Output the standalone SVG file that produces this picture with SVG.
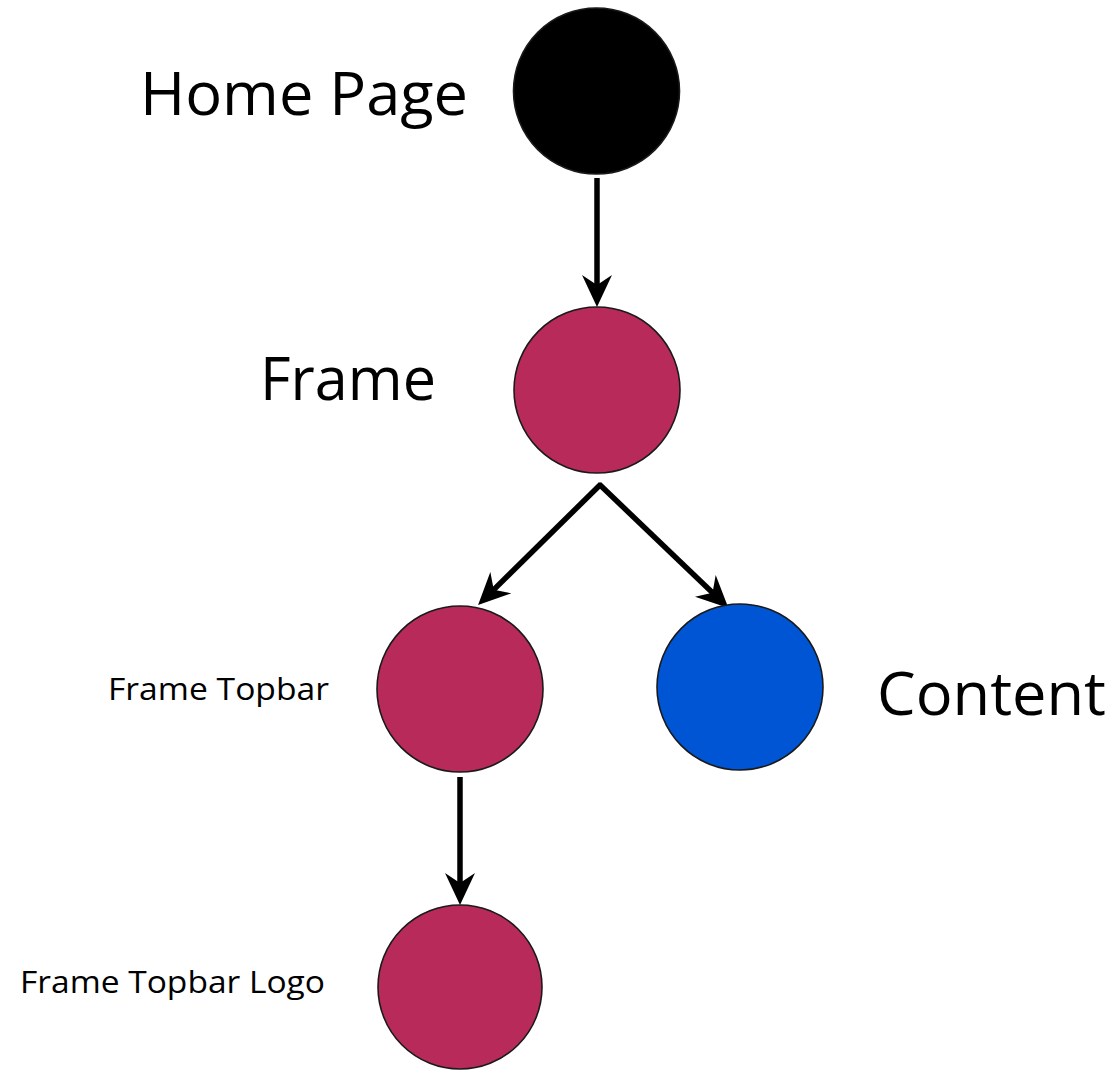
<svg xmlns="http://www.w3.org/2000/svg" width="1119" height="1070" viewBox="0 0 1119 1070">
  <style>
    .lbl { font-family: "Open Sans", "Liberation Sans", sans-serif; fill: #000; }
    .big { font-size: 60px; }
    .small { font-size: 31px; }
    .node { stroke: #1a1a1a; stroke-width: 1.6; }
    .pink { fill: #b82a5a; }
    .blue { fill: #0055d4; }
    .black { fill: #000; }
    .edge { stroke: #000; stroke-width: 5.5; fill: none; }
  </style>
  <defs>
    <marker id="arrow" markerUnits="userSpaceOnUse" markerWidth="32" markerHeight="30" viewBox="0 0 32 30" refX="22" refY="15" orient="auto">
      <path d="M0,0 L32,15 L0,30 L10,15 z" fill="#000"/>
    </marker>
  </defs>
  <rect width="1119" height="1070" fill="#fff"/>

  <g id="connectors">
    <line class="edge" x1="597" y1="178" x2="597" y2="297" marker-end="url(#arrow)"/>
    <line class="edge" x1="601" y1="484" x2="485.2" y2="598.1" marker-end="url(#arrow)"/>
    <line class="edge" x1="599" y1="484" x2="721.2" y2="601.1" marker-end="url(#arrow)"/>
    <line class="edge" x1="460" y1="777" x2="460" y2="895" marker-end="url(#arrow)"/>
  </g>

  <g id="node-home">
    <circle class="node black" cx="596.5" cy="91" r="83"/>
    <text class="lbl big" x="140" y="115" textLength="328" lengthAdjust="spacingAndGlyphs">Home Page</text>
  </g>
  <g id="node-frame">
    <circle class="node pink" cx="597" cy="390" r="83"/>
    <text class="lbl big" x="260" y="400" textLength="176" lengthAdjust="spacingAndGlyphs">Frame</text>
  </g>
  <g id="node-topbar">
    <circle class="node pink" cx="460" cy="689" r="83"/>
    <text class="lbl small" x="108" y="700" textLength="221" lengthAdjust="spacingAndGlyphs">Frame Topbar</text>
  </g>
  <g id="node-content">
    <circle class="node blue" cx="740" cy="687" r="83"/>
    <text class="lbl big" x="877" y="715" textLength="229" lengthAdjust="spacingAndGlyphs">Content</text>
  </g>
  <g id="node-logo">
    <circle class="node pink" cx="460" cy="987" r="82"/>
    <text class="lbl small" x="20" y="993" textLength="305" lengthAdjust="spacingAndGlyphs">Frame Topbar Logo</text>
  </g>
</svg>
